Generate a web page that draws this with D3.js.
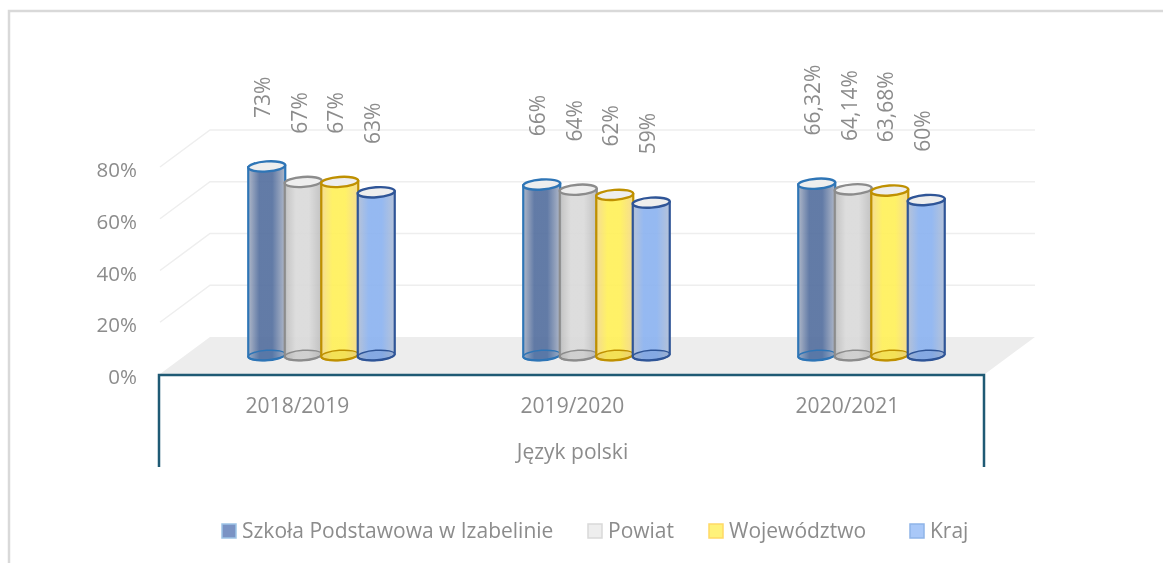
<!DOCTYPE html>
<html>
<head>
<meta charset="utf-8">
<title>Język polski</title>
<script src="https://cdn.jsdelivr.net/npm/d3@7"></script>
<style>
	html, body { margin:0; padding:0; background:#fff; overflow:hidden; }
	svg { filter:blur(0.4px); }
	text { font-family:"Open Sans", sans-serif; fill:#8c8c8c; font-size:21px; }
</style>
</head>
<body>
<svg id="chart"></svg>
<script>
// values
var years = ["2018/2019", "2019/2020", "2020/2021"];
var subject = "Język polski";
var seriesNames = ["Szkoła Podstawowa w Izabelinie", "Powiat", "Województwo", "Kraj"];
var szkola = [73, 66, 66.32];
var powiat = [67, 64, 64.14];
var wojewodztwo = [67, 62, 63.68];
var kraj = [63, 59, 60];
var yTicks = [0, 20, 40, 60, 80];

var seriesValues = [szkola, powiat, wojewodztwo, kraj];

// one style per series: outline, side edge, side middle, legend box
var styles = [
	{ stroke:"#2e75b6", edge:"#a9b2c4", mid:"#55709f", box:"#7a93c4", boxStroke:"#9dc3e6" },
	{ stroke:"#8c8c8c", edge:"#bdbdbd", mid:"#dadada", box:"#eeeeee", boxStroke:"#d9d9d9" },
	{ stroke:"#bf9000", edge:"#f4d98a", mid:"#fff05a", box:"#fff27a", boxStroke:"#ffd966" },
	{ stroke:"#2f5597", edge:"#b0bed6", mid:"#8cb3f0", box:"#a9c8f8", boxStroke:"#8fb4e8" }
];

var width = 1163, height = 563;

var svg = d3.select("#chart").attr("width", width).attr("height", height);

/*
	Scales - front plane of the box, the back wall is the front shifted by depth
*/
var depth = { x:50, y:-37 };
var baseLift = 18; // cylinders stand this far behind the front edge

var x0 = d3.scaleBand().domain(years).range([160, 985]);
var x1 = d3.scaleBand().domain(seriesNames).range([0, 146]).paddingInner(0);
var y = d3.scaleLinear().domain([0, 80]).range([374, 167]);

var defs = svg.append("defs");

styles.forEach(function(s, i){
	var g = defs.append("linearGradient").attr("id", "side" + i);
	g.append("stop").attr("offset", "0%").attr("stop-color", s.edge);
	g.append("stop").attr("offset", "30%").attr("stop-color", s.mid);
	g.append("stop").attr("offset", "65%").attr("stop-color", s.mid);
	g.append("stop").attr("offset", "100%").attr("stop-color", s.edge);
});

// frame of the pasted picture
svg.append("path")
	.attr("d", "M9," + height + "V11H" + width)
	.attr("fill", "none")
	.attr("stroke", "#d9d9d9")
	.attr("stroke-width", 2.5);

/*
	Floor and walls
*/
var xL = x0.range()[0], xR = x0.range()[1];

svg.append("path")
	.attr("d", d3.line()([
		[xL, y(0)],
		[xL + depth.x, y(0) + depth.y],
		[xR + depth.x, y(0) + depth.y],
		[xR, y(0)]
	]) + "Z")
	.attr("fill", "#ededed");

var grid = svg.append("g").attr("fill", "none").attr("stroke", "#eeeeee").attr("stroke-width", 1.5);

grid.selectAll("path")
	.data(yTicks.slice(1))
	.enter().append("path")
	.attr("d", function(d){
		return d3.line()([
			[xL, y(d)],
			[xL + depth.x, y(d) + depth.y],
			[xR + depth.x, y(d) + depth.y]
		]);
	});

/*
	Y axis
*/
var yAxis = d3.axisLeft(y)
	.tickValues(yTicks)
	.tickSize(0)
	.tickPadding(0)
	.tickFormat(function(d){ return d + "%"; });

var yAxisG = svg.append("g").attr("transform", "translate(137,3)").call(yAxis);
yAxisG.select(".domain").remove();
yAxisG.selectAll("text").style("font-size", "20.5px");

/*
	Cylinders
*/
var rx = 18.5, ry = 5;
var groupShift = 24 - 73;

function baseY(){ return y(0) - baseLift; }
function topY(v){ return y(v) - baseLift; }

var groups = svg.selectAll(".year")
	.data(years)
	.enter().append("g")
	.attr("class", "year")
	.attr("transform", function(d){
		return "translate(" + (x0(d) + x0.bandwidth() / 2 + groupShift) + ",0)";
	});

seriesNames.forEach(function(name, s){
	var st = styles[s];

	var cyl = groups.append("g")
		.datum(function(d, i){ return seriesValues[s][i]; })
		.attr("transform", "translate(" + (x1(name) + x1.bandwidth() / 2) + ",0)");

	// side wall with the curved bottom
	cyl.append("path")
		.attr("d", function(v){
			return "M" + (-rx) + "," + topY(v) +
				"V" + baseY() +
				"A" + rx + "," + ry + " -4 0 0 " + rx + "," + (baseY() - 1.5) +
				"V" + (topY(v) - 1.5) + "Z";
		})
		.attr("fill", "url(#side" + s + ")")
		.attr("fill-opacity", 0.92)
		.attr("stroke", st.stroke)
		.attr("stroke-width", 2.2);

	// back rim of the bottom
	cyl.append("ellipse")
		.attr("cy", baseY() - 0.7)
		.attr("rx", rx)
		.attr("ry", ry)
		.attr("transform", "rotate(-4 0 " + baseY() + ")")
		.attr("fill", st.stroke)
		.attr("fill-opacity", 0.15)
		.attr("stroke", st.stroke)
		.attr("stroke-width", 1.5);

	// top
	cyl.append("ellipse")
		.attr("cy", function(v){ return topY(v) - 0.7; })
		.attr("rx", rx)
		.attr("ry", ry)
		.attr("transform", function(v){ return "rotate(-4 0 " + topY(v) + ")"; })
		.attr("fill", "#eeeeee")
		.attr("stroke", st.stroke)
		.attr("stroke-width", 2.4);

	// value label, standing on its side above the cylinder
	cyl.append("text")
		.attr("transform", function(v){ return "translate(-4," + (topY(v) - 49) + ") rotate(-90)"; })
		.attr("dy", "0.35em")
		.text(function(v){ return String(v).replace(".", ",") + "%"; });
});

/*
	Category axis with the two level bracket
*/
svg.append("path")
	.attr("d", "M" + (xL - 1) + ",467V" + (y(0) + 1) + "H" + (xR - 1) + "V467")
	.attr("fill", "none")
	.attr("stroke", "#1f5a74")
	.attr("stroke-width", 2.5);

svg.selectAll(".cat")
	.data(years)
	.enter().append("text")
	.attr("class", "cat")
	.attr("x", function(d){ return x0(d) + x0.bandwidth() / 2; })
	.attr("y", 413)
	.attr("text-anchor", "middle")
	.text(function(d){ return d; });

svg.append("text")
	.attr("x", (xL + xR) / 2)
	.attr("y", 459)
	.attr("text-anchor", "middle")
	.text(subject);

/*
	Legend
*/
var legendX = d3.scaleOrdinal().domain(seriesNames).range([222, 588, 709, 910]);

var legend = svg.selectAll(".legend")
	.data(seriesNames)
	.enter().append("g")
	.attr("class", "legend")
	.attr("transform", function(d){ return "translate(" + legendX(d) + ",524)"; });

legend.append("rect")
	.attr("width", 14)
	.attr("height", 14)
	.attr("fill", function(d, i){ return styles[i].box; })
	.attr("stroke", function(d, i){ return styles[i].boxStroke; })
	.attr("stroke-width", 1.5);

legend.append("text")
	.attr("x", 20)
	.attr("y", 14)
	.text(function(d){ return d; });
</script>
</body>
</html>
